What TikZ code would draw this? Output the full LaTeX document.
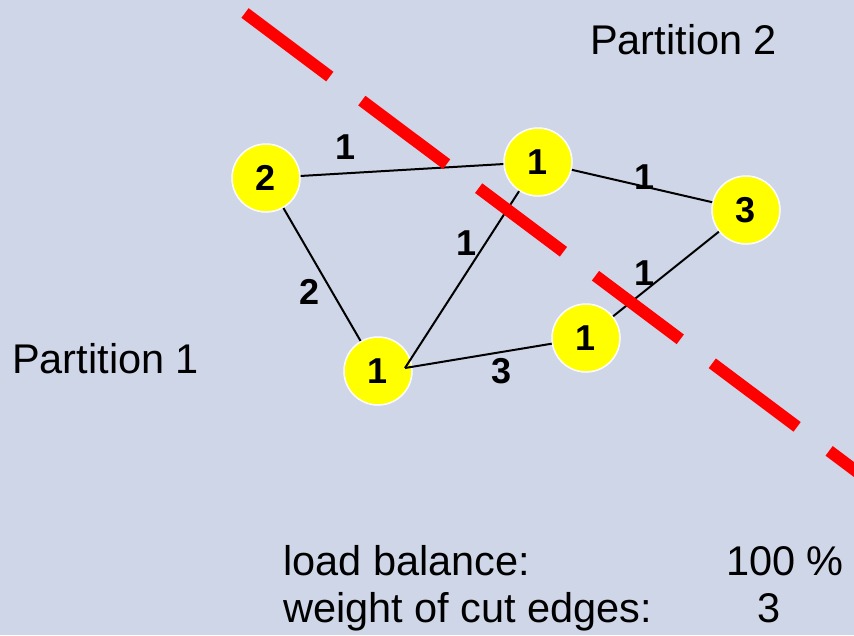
\documentclass[tikz,border=0pt]{standalone}
\usepackage{fontspec}
\setmainfont{Liberation Sans}
\usepackage{xcolor}
\usepackage{tikz}
\usetikzlibrary{calc,positioning}
\definecolor{slidebg}{HTML}{CFD6E7}
\definecolor{cutred}{HTML}{FF0000}
\definecolor{vtxfill}{HTML}{FFFF00}
\tikzset{
  vtx/.style={circle,fill=vtxfill,draw=white,line width=1.5pt,minimum size=68pt,inner sep=0pt,font=\fontsize{36}{40}\bfseries\selectfont},
  wt/.style={font=\fontsize{36}{40}\bfseries\selectfont,inner sep=0pt},
  edg/.style={black,line width=2pt},
  cut/.style={cutred,line width=12pt,line cap=butt,dash pattern=on 106pt off 40pt},
  txt/.style={font=\fontsize{41.5}{46}\selectfont,inner sep=0pt,anchor=base west}
}
\begin{document}
\begin{tikzpicture}[x=1pt,y=-1pt]
\fill[slidebg] (0,0) rectangle (854,635);
\useasboundingbox (0,0) rectangle (854,635);
% vertices
\node[vtx] (va) at (266,178) {2};
\node[vtx] (vb) at (538,162) {1};
\node[vtx] (vc) at (746,210) {3};
\node[vtx] (vd) at (586,338) {1};
\node[vtx] (ve) at (378,371) {1};
% edges
\draw[edg] (va) -- (vb);
\draw[edg] (vb) -- (vc);
\draw[edg] (va) -- (ve);
\draw[edg] ([xshift=27pt,yshift=3pt]ve.center) -- (vb.237);
\draw[edg] ([xshift=27pt,yshift=3pt]ve.center) -- (vd);
\draw[edg] (vd) -- (vc);
% edge weights
\node[wt] (wab) at (346,147) {1};
\node[wt] (wbc) at (645,177) {1};
\node[wt] (web) at (467,243) {1};
\node[wt] (wae) at (310,292) {2};
\node[wt] (wdc) at (645,273) {1};
\node[wt] (wed) at (502,371) {3};
% cut line
\begin{scope}
\clip (0,0) rectangle (854,635);
\draw[cut] (245,13) -- (920,519);
\end{scope}
% texts
\node[txt] (p2) at (590,54) {Partition 2};
\node[txt] (p1) at (12,373) {Partition 1};
\node[txt] (lb) at (283,575) {load balance:};
\node[txt] (lbv) at (726,575) {100 \%};
\node[txt] (wc) at (283,622) {weight of cut edges:};
\node[txt] (wcv) at (757,622) {3};
\end{tikzpicture}
\end{document}
